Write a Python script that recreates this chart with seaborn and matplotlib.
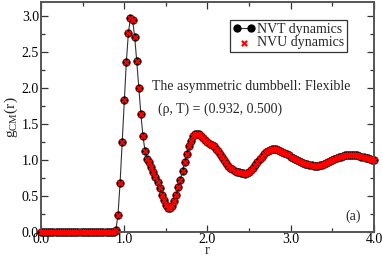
import numpy as np
import matplotlib
matplotlib.use("Agg")
import matplotlib.pyplot as plt
import seaborn as sns
from matplotlib.ticker import MultipleLocator, FormatStrFormatter

# ---- data ----
r_vals = np.linspace(0.0, 4.0, 161)
g_zero = [0.0, 0.0, 0.0, 0.0, 0.0, 0.0, 0.0, 0.0, 0.0, 0.0, 0.0, 0.0,
          0.0, 0.0, 0.0, 0.0, 0.0, 0.0, 0.0, 0.0, 0.0, 0.0, 0.0, 0.0,
          0.0, 0.0, 0.0, 0.0, 0.0, 0.0, 0.0, 0.0, 0.0, 0.0, 0.0, 0.0]
g_tail = [0.03, 0.24, 0.68, 1.25, 1.83, 2.36, 2.77, 2.98, 2.95, 2.72, 2.38, 2.00, 1.64, 1.33, 1.13, 1.02,
          0.97, 0.91, 0.84, 0.76, 0.69, 0.61, 0.52, 0.44, 0.38, 0.34, 0.335, 0.36, 0.43, 0.51, 0.62, 0.73,
          0.85, 0.97, 1.09, 1.19, 1.27, 1.33, 1.36, 1.37, 1.36, 1.34, 1.31, 1.28, 1.25, 1.23, 1.21, 1.19,
          1.16, 1.12, 1.08, 1.04, 1.00, 0.96, 0.92, 0.89, 0.875, 0.855, 0.84, 0.83, 0.82, 0.815, 0.81, 0.815,
          0.83, 0.86, 0.89, 0.93, 0.97, 1.01, 1.05, 1.08, 1.11, 1.13, 1.145, 1.155, 1.16, 1.155, 1.145, 1.13,
          1.115, 1.10, 1.08, 1.065, 1.05, 1.035, 1.02, 1.005, 0.99, 0.975, 0.96, 0.95, 0.94, 0.935, 0.93, 0.925,
          0.925, 0.925, 0.93, 0.935, 0.945, 0.955, 0.97, 0.985, 1.00, 1.015, 1.03, 1.04, 1.05, 1.06, 1.065, 1.07,
          1.075, 1.075, 1.075, 1.07, 1.065, 1.06, 1.05, 1.045, 1.035, 1.025, 1.015, 1.005, 1.00]
g_nvt = g_zero + g_tail
g_nvu = g_zero + g_tail

x_ticks = [0.0, 1.0, 2.0, 3.0, 4.0]
y_ticks = [0.0, 0.5, 1.0, 1.5, 2.0, 2.5, 3.0]

# ---- style ----
sns.set_style("ticks")
plt.rcParams["font.family"] = ["Liberation Serif", "DejaVu Serif"]
plt.rcParams["mathtext.fontset"] = "custom"
plt.rcParams["mathtext.rm"] = "Liberation Serif"

fig = plt.figure(figsize=(3.82, 2.57), dpi=100)
ax = fig.add_axes([0.1073, 0.0973, 0.8717, 0.8949])

sns.lineplot(x=r_vals, y=g_nvt, ax=ax, color="#333333", lw=0.8,
             marker="o", markersize=5.2, markerfacecolor="black",
             markeredgecolor="black", label="NVT dynamics", sort=False,
             estimator=None, clip_on=False)
sns.scatterplot(x=r_vals, y=g_nvu, ax=ax, marker="x", color="red", s=14,
                linewidth=1.6, label="NVU dynamics", zorder=3, clip_on=False)

ax.set_xlim(0, 4.0)
ax.set_ylim(0, 3.2)
ax.set_xticks(x_ticks)
ax.set_yticks(y_ticks)
ax.xaxis.set_major_formatter(FormatStrFormatter("%.1f"))
ax.yaxis.set_major_formatter(FormatStrFormatter("%.1f"))
ax.xaxis.set_minor_locator(MultipleLocator(0.5))
ax.yaxis.set_minor_locator(MultipleLocator(0.25))
ax.tick_params(which="both", direction="in", top=True, right=True,
               colors="#333333", labelcolor="black", labelsize=10, pad=1.5)
ax.tick_params(axis="x", pad=1.0)
ax.tick_params(which="major", length=5, width=0.9)
ax.tick_params(which="minor", length=3, width=0.9)
for s in ax.spines.values():
    s.set_color("#555555")
    s.set_linewidth(1.4)

ax.set_xlabel("r", fontsize=10.5, labelpad=-1.5)
ax.set_ylabel(r"g$_{\rm CM}$(r)", fontsize=11, labelpad=1)

ax.text(0.333, 0.633, "The asymmetric dumbbell: Flexible", transform=ax.transAxes,
        fontsize=10, va="center", ha="left")
ax.text(0.35, 0.533, "(ρ, T) = (0.932, 0.500)", transform=ax.transAxes,
        fontsize=10, va="center", ha="left")
ax.text(0.913, 0.07, "(a)", transform=ax.transAxes, fontsize=10,
        va="center", ha="left")

handles, labels = ax.get_legend_handles_labels()
leg = ax.legend(handles, labels, loc="upper right", bbox_to_anchor=(0.919, 0.922),
                frameon=True, fancybox=False, fontsize=10, numpoints=2,
                scatterpoints=1, handlelength=1.6, handletextpad=0.15,
                borderpad=0.2, labelspacing=0.05, borderaxespad=0.0)
leg.get_frame().set_edgecolor("black")
leg.get_frame().set_linewidth(0.9)

fig.savefig("out.png", dpi=100)
